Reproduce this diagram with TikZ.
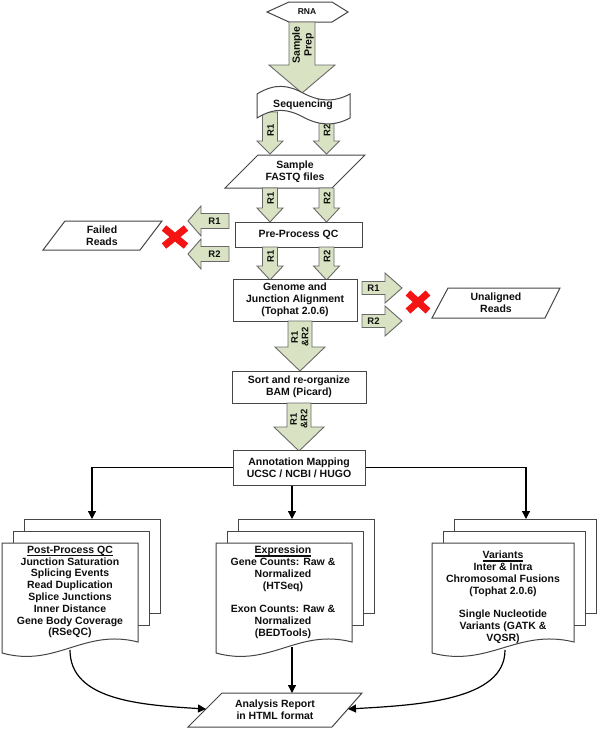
\documentclass[tikz,border=0pt]{standalone}
\usepackage{fontspec}
\setmainfont{Liberation Sans}
\usetikzlibrary{arrows.meta}
\definecolor{arrfill}{RGB}{217,227,195}
\definecolor{arrbord}{RGB}{105,105,105}
\definecolor{bordc}{RGB}{70,70,70}
\definecolor{txtc}{RGB}{15,15,15}
\definecolor{xred}{RGB}{245,20,20}
\tikzset{
  box/.style={draw=bordc, fill=white, line width=1pt},
  blk/.style={draw=arrbord, fill=arrfill, line width=0.9pt, line join=miter},
  txt/.style={font=\fontsize{10.5}{11.8}\selectfont\bfseries, align=center, text=txtc, inner sep=0pt},
  lbl/.style={font=\fontsize{9.5}{10.5}\selectfont\bfseries, align=center, text=txtc, inner sep=0pt},
  conn/.style={draw=black, line width=1.2pt, -{Triangle[length=8pt,width=8pt]}},
  xmark/.style={draw=xred, line width=7pt},
}
\newcommand{\myul}[1]{\setbox0=\hbox{#1}\leavevmode\rlap{\rule[-2.9pt]{\wd0}{1.4pt}}\box0}
% down block arrow: cx, ytop, ytip, shaft half, head half, head start y
\newcommand{\dnarr}[6]{%
  \draw[blk] ({#1-#4},#2) -- ({#1+#4},#2) -- ({#1+#4},#6) -- ({#1+#5},#6) -- (#1,#3) -- ({#1-#5},#6) -- ({#1-#4},#6) -- cycle;}
% horizontal block arrow: cy, tipx, headbasex, tailx, body half, head half
\newcommand{\hzarr}[6]{%
  \draw[blk] (#4,{#1-#5}) -- (#3,{#1-#5}) -- (#3,{#1-#6}) -- (#2,#1) -- (#3,{#1+#6}) -- (#3,{#1+#5}) -- (#4,{#1+#5}) -- cycle;}
% document shape: x0, x1, ytop, ybottom-left
\newcommand{\docshape}[4]{%
  \draw[box] (#1,#3) -- (#2,#3) -- (#2,{#4-11}) .. controls ({#1+0.6*(#2-#1)},{#4-25}) and ({#1+0.4*(#2-#1)},{#4+15}) .. (#1,#4) -- cycle;}
\newcommand{\docstack}[2]{%
  \draw[box] ({#1+22},519) rectangle ({#2+22},613);
  \draw[box] ({#1+11},531) rectangle ({#2+11},625);
  \docshape{#1}{#2}{543}{653}}
\begin{document}
\begin{tikzpicture}[x=1pt,y=-1pt]
\useasboundingbox (0,0) rectangle (600,729);
\fill[white] (0,0) rectangle (600,729);

% RNA
\draw[box] (267,12) -- (289,2) -- (332,2) -- (348,12) -- (332,22) -- (289,22) -- cycle;
\node[txt, font=\fontsize{8.5}{10}\selectfont\bfseries] (rna) at (307,12) {RNA};

% Sample prep arrow
\dnarr{302}{22}{93}{13}{33}{65}
\node[txt, rotate=90] (prep) at (303,45) {Sample\\Prep};

% R arrows under sequencing
\dnarr{270}{112}{154}{7.5}{13}{141}
\dnarr{326.5}{112}{154}{7.5}{13}{141}
\node[lbl, rotate=90] (s1) at (270.5,130) {R1};
\node[lbl, rotate=90] (s2) at (327,130) {R2};

% Sequencing tape
\draw[box] (257,94) .. controls (275,83) and (288,85) .. (303,93) .. controls (318,101) and (333,103) .. (350,94)
  -- (350,118) .. controls (333,127) and (318,125) .. (303,117) .. controls (288,109) and (275,107) .. (257,118) -- cycle;
\node[txt] (seq) at (303,105) {Sequencing};

% FASTQ parallelogram
\draw[box] (225,188) -- (258,155) -- (365,155) -- (332,188) -- cycle;
\node[txt] (fastq) at (295,171.5) {Sample\\FASTQ files};

% R arrows under FASTQ
\dnarr{270}{188}{222}{7.5}{13}{208}
\dnarr{326.5}{188}{222}{7.5}{13}{208}
\node[lbl, rotate=90] (f1) at (270.5,198) {R1};
\node[lbl, rotate=90] (f2) at (327,198) {R2};

% Pre-process QC
\node[box, txt, minimum width=127, minimum height=25] (pre) at (298.5,234.5) {Pre-Process QC};

% left arrows + failed reads
\hzarr{221}{188}{201}{229}{7.5}{15}
\hzarr{254}{188}{201}{229}{7.5}{15}
\node[lbl] (p1) at (214.5,221) {R1};
\node[lbl] (p2) at (214.5,254) {R2};
\coordinate (xl) at (175,237);
\draw[xmark] (xl) +(-11,-9) -- +(11,9);
\draw[xmark] (xl) +(-11,9) -- +(11,-9);
\draw[box] (43,250) -- (65,221) -- (162,221) -- (140,250) -- cycle;
\node[txt] (failed) at (102,235.5) {Failed\\Reads};

% R arrows under pre-process
\dnarr{270}{247}{280}{7.5}{13}{266}
\dnarr{326.5}{247}{280}{7.5}{13}{266}
\node[lbl, rotate=90] (q1) at (270.5,256) {R1};
\node[lbl, rotate=90] (q2) at (327,256) {R2};

% Genome alignment
\node[box, txt, minimum width=124, minimum height=42] (gen) at (295,300) {Genome and\\Junction Alignment\\(Tophat 2.0.6)};

% right arrows + unaligned
\hzarr{288}{402}{385}{362}{6.5}{15}
\hzarr{321}{402}{385}{362}{6.5}{15}
\node[lbl] (g1) at (373.5,288) {R1};
\node[lbl] (g2) at (373.5,321) {R2};
\coordinate (xr) at (418,302);
\draw[xmark] (xr) +(-10,-9) -- +(10,9);
\draw[xmark] (xr) +(-10,9) -- +(10,-9);
\draw[box] (432,318) -- (448,288) -- (560,288) -- (545,318) -- cycle;
\node[txt] (unal) at (496,303) {Unaligned\\Reads};

% R1&R2 arrow 1
\dnarr{300}{321}{371}{12}{25}{347}
\node[lbl, rotate=90] (a1) at (300,337) {R1\\\&R2};

% Sort box
\node[box, txt, minimum width=134, minimum height=32] (sort) at (299,387) {Sort and re-organize\\BAM (Picard)};

% R1&R2 arrow 2
\dnarr{299}{403}{451}{12}{25}{427}
\node[lbl, rotate=90] (a2) at (299,419) {R1\\\&R2};

% Annotation mapping
\node[box, txt, minimum width=132, minimum height=35] (ann) at (299,467.5) {Annotation Mapping\\UCSC / NCBI / HUGO};

% stacks
\docstack{2}{138}
\docstack{216}{352}
\docstack{432}{574}
\node[txt] (qc) at (70,592) {\myul{Post-Process QC}\\Junction Saturation\\Splicing Events\\Read Duplication\\Splice Junctions\\Inner Distance\\Gene Body Coverage\\(RSeQC)};
\node[txt] (expr) at (283,592.5) {\myul{Expression}\\Gene Counts: Raw \&\\Normalized\\(HTSeq)\\[11.8pt]Exon Counts: Raw \&\\Normalized\\(BEDTools)};
\node[txt] (var) at (503,597.5) {\myul{Variants}\\Inter \& Intra\\Chromosomal Fusions\\(Tophat 2.0.6)\\[11.8pt]Single Nucleotide\\Variants (GATK \&\\VQSR)};

% connectors from annotation
\coordinate (ltop) at (92,519);
\coordinate (mtop) at (292,519);
\coordinate (rtop) at (526,519);
\draw[conn] (ann.west) -| (ltop);
\draw[conn] (ann.east) -| (rtop);
\draw[conn] (ann.south -| mtop) -- (mtop);

% analysis report
\draw[box] (188,727) -- (222,693) -- (362,693) -- (332,727) -- cycle;
\node[txt] (rep) at (275,710) {Analysis Report\\in HTML format};
\coordinate (repL) at (206,709);
\coordinate (repR) at (348,709);
\coordinate (repT) at (292,693);
\coordinate (lbot) at (70,650);
\coordinate (mbot) at (292,647);
\coordinate (rbot) at (505,650);
\draw[conn] (lbot) .. controls (70,700) and (140,705) .. (repL);
\draw[conn] (rbot) .. controls (505,700) and (420,705) .. (repR);
\draw[conn] (mbot) -- (repT);
\end{tikzpicture}
\end{document}
